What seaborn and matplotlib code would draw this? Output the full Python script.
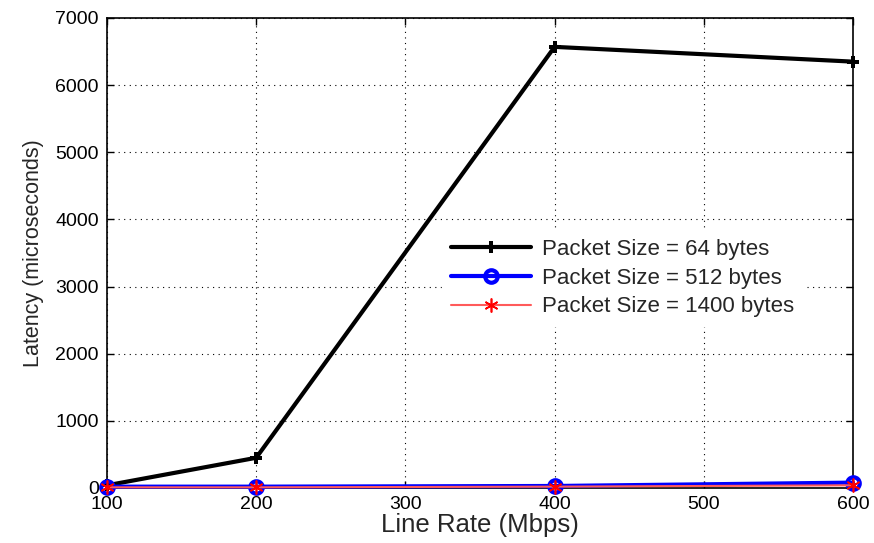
import matplotlib
matplotlib.use("Agg")
import matplotlib.pyplot as plt
import seaborn as sns
import pandas as pd

line_rate = [100, 200, 400, 600]
lat_64 = [40, 450, 6570, 6350]
lat_512 = [20, 20, 30, 80]
lat_1400 = [10, 10, 20, 40]
labels = ["Packet Size = 64 bytes", "Packet Size = 512 bytes", "Packet Size = 1400 bytes"]

sns.set_theme(style="white")
plt.rcParams['font.family'] = ['Liberation Sans', 'DejaVu Sans']

df = pd.concat([
    pd.DataFrame({"rate": line_rate, "lat": lat_64, "series": labels[0]}),
    pd.DataFrame({"rate": line_rate, "lat": lat_512, "series": labels[1]}),
    pd.DataFrame({"rate": line_rate, "lat": lat_1400, "series": labels[2]}),
])

fig = plt.figure(figsize=(8.74, 5.43), dpi=100)
ax = fig.add_axes([107/874, 1-488/543, (853-107)/874, (488-18)/543])

styles = {
    labels[0]: dict(color="black", lw=3, marker="P", ms=9, mfc="black", mec="black", mew=0),
    labels[1]: dict(color="blue", lw=3, marker="o", ms=9, mfc="none", mec="blue", mew=3),
    labels[2]: dict(color="#ff5a5a", lw=1.5, marker=(6, 2, 0), ms=10, mfc="red", mec="red", mew=1.2),
}
for lab in labels:
    sub = df[df.series == lab]
    st = styles[lab]
    sns.lineplot(data=sub, x="rate", y="lat", ax=ax, label=lab, color=st["color"], lw=st["lw"],
                 marker=st["marker"], markersize=st["ms"], markerfacecolor=st["mfc"],
                 markeredgecolor=st["mec"], markeredgewidth=st["mew"], zorder=3, clip_on=False)

ax.set_xlim(100, 600)
ax.set_ylim(0, 7000)
ax.set_xticks([100, 200, 300, 400, 500, 600])
ax.set_yticks(range(0, 7001, 1000))
ax.grid(True, color="black", linestyle=(0, (1, 4)), linewidth=0.8)
for s in ax.spines.values():
    s.set_visible(True)
    s.set_color("black")
    s.set_linewidth(1.2)
ax.tick_params(direction="in", length=5, width=1, labelsize=14, colors="black",
               top=True, right=True, bottom=True, left=True)
ax.tick_params(axis="x", pad=6)
ax.tick_params(axis="y", pad=6)
ax.set_xlabel("Line Rate (Mbps)", fontsize=18.5, labelpad=0)
ax.set_ylabel("Latency (microseconds)", fontsize=15.5, labelpad=8)

leg = ax.legend(loc="upper left", bbox_to_anchor=((442-107)/746, (488-230)/470), frameon=True,
                fontsize=16, handlelength=3.6, borderpad=0.4, labelspacing=0.35, handletextpad=0.5,
                borderaxespad=0)
leg.get_frame().set_edgecolor("white")
leg.get_frame().set_facecolor("white")
leg.get_frame().set_alpha(1)
leg.get_frame().set_boxstyle("square", pad=0)

fig.savefig("out.png", dpi=100)
